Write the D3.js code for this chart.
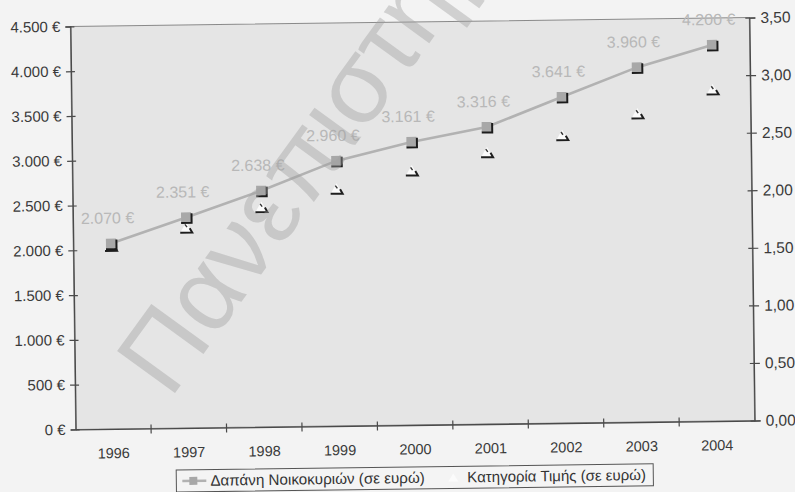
<!DOCTYPE html>
<html>
<head>
<meta charset="utf-8">
<script src="https://cdn.jsdelivr.net/npm/d3@7"></script>
<style>
  html, body { margin: 0; padding: 0; background: #f3f3f3; }
  svg { display: block; }
  text { font-family: "Liberation Sans", Arial, sans-serif; }
</style>
</head>
<body>
<svg id="chart" width="795" height="492"></svg>
<script>
// Household spending vs price category, 1996–2004
const years = ["1996", "1997", "1998", "1999", "2000", "2001", "2002", "2003", "2004"];
const spending = [2070, 2351, 2638, 2960, 3161, 3316, 3641, 3960, 4200];
const priceCategory = [1.59, 1.74, 1.91, 2.06, 2.21, 2.36, 2.50, 2.68, 2.88];
const leftTicks = [0, 500, 1000, 1500, 2000, 2500, 3000, 3500, 4000, 4500];
const rightTicks = [0, 0.5, 1, 1.5, 2, 2.5, 3, 3.5];
const seriesNames = ["Δαπάνη Νοικοκυριών (σε ευρώ)", "Κατηγορία Τιμής (σε ευρώ)"];
const watermarkText = "Πανεπιστήμιο";

const locale = d3.formatLocale({ decimal: ",", thousands: ".", grouping: [3], currency: ["", " €"] });
const fmtEuro = locale.format("$,");
const fmtRight = locale.format(".2f");

const svg = d3.select("#chart");
const plot = { left: 73, right: 752, top: 22, bottom: 425 };

// the whole chart sits at a slight tilt
const g = svg.append("g").attr("transform", "rotate(-0.75, 412, 225)");

const x = d3.scaleBand().domain(years).range([plot.left, plot.right]).padding(0);
const yL = d3.scaleLinear().domain([0, 4500]).range([plot.bottom, plot.top]);
const yR = d3.scaleLinear().domain([0, 3.5]).range([plot.bottom, plot.top]);

// plot area
g.append("rect")
  .attr("x", plot.left).attr("y", plot.top)
  .attr("width", plot.right - plot.left).attr("height", plot.bottom - plot.top)
  .attr("fill", "#e5e5e5").attr("stroke", "#8a8a8a").attr("stroke-width", 1);

const axisColor = "#4a4a4a";
const labelColor = "#3a3a3a";

// left axis
const axL = g.append("g").attr("transform", `translate(${plot.left},0)`)
  .call(d3.axisLeft(yL).tickValues(leftTicks).tickFormat(fmtEuro).tickSize(5).tickPadding(5));
axL.select(".domain").attr("stroke", axisColor).attr("stroke-width", 1.3);
axL.selectAll(".tick line").attr("x1", 4).attr("stroke", axisColor).attr("stroke-width", 1.2);
axL.selectAll(".tick text").attr("font-size", 15).attr("fill", labelColor)
  .style("font-family", "'Liberation Sans', Arial, sans-serif");

// right axis
const axR = g.append("g").attr("transform", `translate(${plot.right},0)`)
  .call(d3.axisRight(yR).tickValues(rightTicks).tickFormat(fmtRight).tickSize(6).tickPadding(5));
axR.select(".domain").attr("stroke", axisColor).attr("stroke-width", 1.3);
axR.selectAll(".tick line").attr("x1", -4).attr("stroke", axisColor).attr("stroke-width", 1.2);
axR.selectAll(".tick text").attr("font-size", 15.5).attr("fill", labelColor)
  .style("font-family", "'Liberation Sans', Arial, sans-serif");

// category axis: ticks between categories, labels centred
const axB = g.append("g").attr("transform", `translate(0,${plot.bottom})`)
  .call(d3.axisBottom(x).tickSize(0).tickPadding(19));
axB.select(".domain").attr("stroke", axisColor).attr("stroke-width", 1.3);
axB.selectAll(".tick text").attr("font-size", 14.5).attr("fill", labelColor)
  .style("font-family", "'Liberation Sans', Arial, sans-serif");
const boundaries = years.slice(1).map(d => x(d));
g.append("g").selectAll("line").data(boundaries).join("line")
  .attr("x1", d => d).attr("x2", d => d)
  .attr("y1", plot.bottom - 4).attr("y2", plot.bottom + 5)
  .attr("stroke", axisColor).attr("stroke-width", 1.2);

const cx = d => x(d) + x.bandwidth() / 2;

// spending line
const line = d3.line().x((d, i) => cx(years[i])).y(d => yL(d));
g.append("path").datum(spending)
  .attr("d", line).attr("fill", "none")
  .attr("stroke", "#b2b2b2").attr("stroke-width", 2.6);

// price category markers (white triangles with a dark lower edge)
const tri = g.append("g").selectAll("g").data(priceCategory).join("g")
  .attr("transform", (d, i) => `translate(${cx(years[i])},${yR(d)})`);
tri.append("path").attr("d", "M0,-5.5 L6,5 L-6,5 Z").attr("fill", "#fbfbfb");
tri.append("path").attr("d", "M-6,5 L6,5 L3.5,0.6").attr("fill", "none")
  .attr("stroke", "#1e1e1e").attr("stroke-width", 2);
tri.append("path").attr("d", "M-1.2,-3.2 L0.8,-0.4").attr("stroke", "#333").attr("stroke-width", 1.4);

// spending markers (grey squares with dark shadow edge)
const sq = g.append("g").selectAll("g").data(spending).join("g")
  .attr("transform", (d, i) => `translate(${cx(years[i])},${yL(d)})`);
sq.append("rect").attr("x", -5).attr("y", -5).attr("width", 10).attr("height", 10).attr("fill", "#a8a8a8");
sq.append("path").attr("d", "M-5,5.5 L5.5,5.5 L5.5,-4").attr("fill", "none")
  .attr("stroke", "#1c1c1c").attr("stroke-width", 2);

// value labels
g.append("g").selectAll("text").data(spending).join("text")
  .attr("x", (d, i) => cx(years[i]) - 3)
  .attr("y", d => yL(d) - 20)
  .attr("text-anchor", "middle")
  .attr("font-size", 16).attr("fill", "#b8b8b8")
  .text(d => fmtEuro(d));

// legend
const leg = g.append("g");
leg.append("rect").attr("x", 173).attr("y", 467).attr("width", 477).attr("height", 22)
  .attr("fill", "#f4f4f4").attr("stroke", "#555").attr("stroke-width", 1);
leg.append("line").attr("x1", 179).attr("x2", 203).attr("y1", 478).attr("y2", 478)
  .attr("stroke", "#b2b2b2").attr("stroke-width", 2.6);
leg.append("rect").attr("x", 186).attr("y", 474).attr("width", 8).attr("height", 8).attr("fill", "#a8a8a8");
leg.append("text").attr("x", 207).attr("y", 483).attr("font-size", 15.2).attr("fill", "#333")
  .text(seriesNames[0]);
leg.append("path").attr("d", "M450,474 L455,482 L445,482 Z").attr("fill", "#fbfbfb");
leg.append("text").attr("x", 464).attr("y", 483).attr("font-size", 15).attr("fill", "#333")
  .text(seriesNames[1]);

// watermark across the page
svg.append("text")
  .attr("transform", "translate(170,400) rotate(-54)")
  .attr("font-size", 104)
  .attr("fill", "#a0a0a0").attr("fill-opacity", 0.42)
  .style("font-family", "'Liberation Sans', Arial, sans-serif")
  .text(watermarkText);
</script>
</body>
</html>
